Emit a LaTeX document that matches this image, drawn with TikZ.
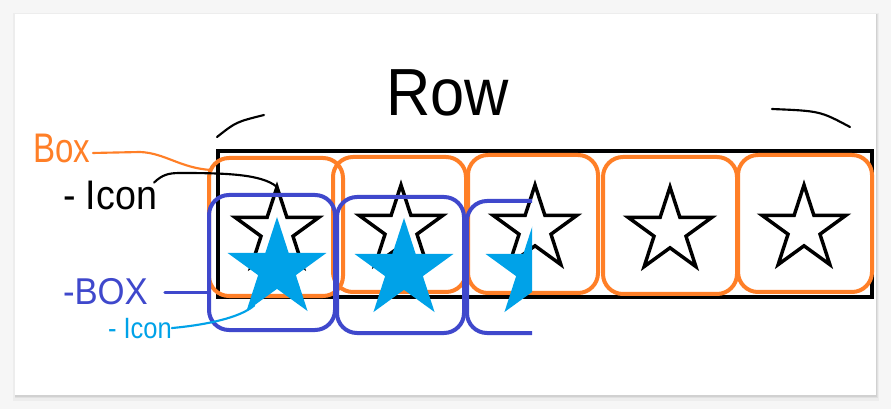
\documentclass[tikz,border=0pt]{standalone}
\usepackage{fontspec}
\setmainfont{Liberation Sans}
\usepackage{graphicx}
\usetikzlibrary{shapes.geometric,calc}
\definecolor{paintorange}{HTML}{FF7F27}
\definecolor{paintblue}{HTML}{3F48CC}
\definecolor{paintcyan}{HTML}{00A2E8}
\definecolor{pagebg}{HTML}{F6F6F6}
\begin{document}
\begin{tikzpicture}[x=0.75pt,y=-0.75pt,
  obox/.style n args={2}{draw=paintorange, line width=3pt, rounded corners=15pt,
    inner sep=0pt, outer sep=0pt, minimum width=#1*0.75pt, minimum height=#2*0.75pt},
  bbox/.style n args={2}{draw=paintblue, line width=3pt, rounded corners=15pt,
    inner sep=0pt, outer sep=0pt, minimum width=#1*0.75pt, minimum height=#2*0.75pt},
  ostar/.style={star, star points=5, star point ratio=2.618, draw=black,
    line width=2.6pt, minimum size=66pt, inner sep=0pt, outer sep=0pt},
  fstar/.style={star, star points=5, star point ratio=2.618, fill=paintcyan,
    draw=none, minimum size=78pt, inner sep=0pt, outer sep=0pt},
  lbl/.style={inner sep=0pt, outer sep=0pt, anchor=base west},
  link/.style={line width=1.6pt, line cap=round, line join=round}]
\useasboundingbox (0,0) rectangle (891,409);
% page and card
\fill[pagebg] (0,0) rectangle (891,409);
\fill[black!12] (14,14) rectangle (878,399);
\fill[black!7] (13,13) rectangle (879,401);
\fill[black!12] (14.5,14) rectangle (877.5,398);
\fill[black!18] (15,14) rectangle (876.5,396.5);
\fill[white] (15,14) rectangle (876,395);
% row frame
\draw[line width=3pt] (218,151) rectangle (872,297);
% orange boxes
\node[obox={134}{138}] (ob1) at (276,227) {};
\node[obox={133}{135}] (ob2) at (399.5,224.5) {};
\node[obox={130}{138}] (ob3) at (533,224) {};
\node[obox={134}{137}] (ob4) at (670,225.5) {};
\node[obox={134}{137}] (ob5) at (805,223.5) {};
% outline stars
\node[ostar] (bs1) at (277,231) {};
\node[ostar] (bs2) at (401,229) {};
\node[ostar] (bs3) at (535,229) {};
\node[ostar] (bs4) at (670,231) {};
\node[ostar] (bs5) at (804,229) {};
% labels
\node[lbl, text=paintorange] (lbox) at (33,163)
  {\fontsize{31}{36}\selectfont\scalebox{0.8}[1]{Box}};
\node[lbl, text=black] (licon) at (63,210)
  {\fontsize{31}{36}\selectfont\scalebox{0.91}[1]{- Icon}};
\node[lbl, text=paintblue] (lBOX) at (63,305)
  {\fontsize{28}{32}\selectfont\scalebox{0.93}[1]{-BOX}};
\node[lbl, text=paintcyan] (lic2) at (108,338)
  {\fontsize{22}{26}\selectfont\scalebox{0.87}[1]{- Icon}};
\node[lbl, text=black] (lrow) at (386,116)
  {\fontsize{50}{56}\selectfont\scalebox{0.92}[1]{Row}};
% row brackets
\draw[line width=1.6pt, line cap=round] (217,137) .. controls (236,122) .. (264,115);
\draw[line width=1.6pt, line cap=round] (772,109) .. controls (820,111) .. (850,127);
% connectors
\draw[link, paintorange] ($(lbox.east)+(3,4)$) -- (140,152)
  .. controls (165,153) and (180,168) .. ($(ob1.north west)+(2,12)$);
\draw[link, black] ($(licon.north east)+(-3,1)$) .. controls (162,175) and (168,173) .. (180,173)
  .. controls (225,173) and (262,174) .. (bs1.north);
% blue boxes
\node[bbox={126}{135}] (bb1) at (272,262.5) {};
\node[bbox={127}{136}] (bb2) at (400.5,265) {};
\draw[link, paintblue, line width=2.2pt] ([xshift=12.75pt]lBOX.east) -- (lBOX.east -| bb1.west);
% filled stars
\node[fstar] (ys1) at (277,269) {};
\node[fstar] (ys2) at (404,270) {};
\begin{scope}
  \clip (0,0) rectangle (532,409);
  \node[bbox={127}{132}] (bb3) at (530.5,267) {};
  \node[fstar] (ys3) at (535,270) {};
\end{scope}
\draw[link, paintcyan] (lic2.east) .. controls (205,325) and (240,318) .. (ys1.238);
\end{tikzpicture}
\end{document}
